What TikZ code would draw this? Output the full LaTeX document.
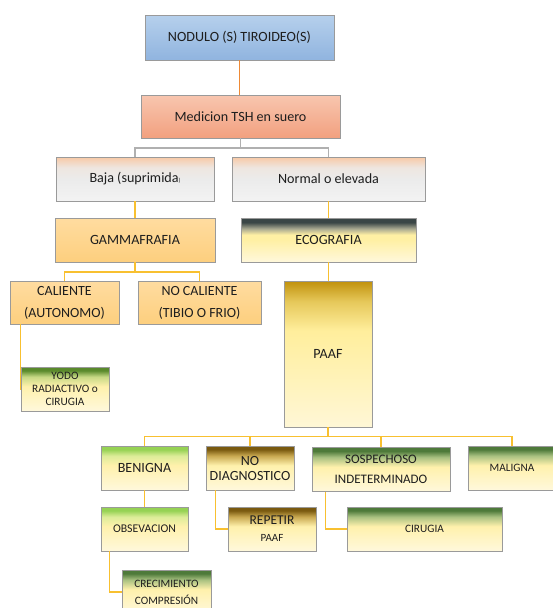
\documentclass[tikz,border=0pt]{standalone}
\usepackage{fontspec}
\setmainfont{Carlito}
\usetikzlibrary{shadows}
% colours
\definecolor{txt}{HTML}{1E1E1E}
\definecolor{boxline}{HTML}{9A9A9A}
\definecolor{goldline}{HTML}{F8C030}
\definecolor{orangeline}{HTML}{EE8A36}
\definecolor{grayline}{HTML}{B0B0B0}
\definecolor{blueT}{HTML}{B6D0EC}\definecolor{blueB}{HTML}{90B4DF}
\definecolor{salT}{HTML}{F8C6AF}\definecolor{salB}{HTML}{F2A07F}
\definecolor{pchT}{HTML}{F8C9A6}\definecolor{pchM}{HTML}{EEE6E0}\definecolor{pchB}{HTML}{F3F3F3}\definecolor{pchC}{HTML}{EBEBEB}
\definecolor{gamT}{HTML}{FFDCA0}\definecolor{gamB}{HTML}{FDCF7E}
\definecolor{ecoT}{HTML}{3A4646}\definecolor{ecoA}{HTML}{A8A890}\definecolor{ecoM}{HTML}{FFF0A4}\definecolor{ecoB}{HTML}{FFF8DC}
\definecolor{paT}{HTML}{C0910C}\definecolor{paA}{HTML}{E6C85A}\definecolor{paM}{HTML}{FFEE9C}\definecolor{paB}{HTML}{FFF7D6}
\definecolor{ygT}{HTML}{5A8A2C}\definecolor{ygA}{HTML}{C6D884}
\definecolor{lgT}{HTML}{96D254}\definecolor{lgA}{HTML}{DCEC98}
\definecolor{brT}{HTML}{7A5A10}\definecolor{brA}{HTML}{C8A850}
\definecolor{dgT}{HTML}{4E7A3A}\definecolor{dgA}{HTML}{A8C080}
\definecolor{ylM}{HTML}{FFF1AC}\definecolor{ylB}{HTML}{FFF8DC}
% shadings (path mapped to 25bp..75bp)
\pgfdeclareverticalshading{shBlue}{100bp}{color(0bp)=(blueB); color(25bp)=(blueB); color(75bp)=(blueT); color(100bp)=(blueT)}
\pgfdeclareverticalshading{shSal}{100bp}{color(0bp)=(salB); color(25bp)=(salB); color(75bp)=(salT); color(100bp)=(salT)}
\pgfdeclareverticalshading{shPeach}{100bp}{color(0bp)=(pchB); color(25bp)=(pchB); color(50bp)=(pchC); color(63bp)=(pchM); color(75bp)=(pchT); color(100bp)=(pchT)}
\pgfdeclareverticalshading{shGam}{100bp}{color(0bp)=(gamB); color(25bp)=(gamB); color(75bp)=(gamT); color(100bp)=(gamT)}
\pgfdeclareverticalshading{shEco}{100bp}{color(0bp)=(ecoB); color(25bp)=(ecoB); color(50bp)=(ecoM); color(56bp)=(ecoM); color(63bp)=(ecoA); color(70bp)=(ecoT); color(100bp)=(ecoT)}
\pgfdeclareverticalshading{shPaaf}{100bp}{color(0bp)=(paB); color(25bp)=(paB); color(58bp)=(paM); color(68bp)=(paA); color(75bp)=(paT); color(100bp)=(paT)}
\pgfdeclareverticalshading{shYodo}{100bp}{color(0bp)=(ylB); color(25bp)=(ylB); color(53bp)=(ylM); color(64bp)=(ygA); color(71bp)=(ygT); color(100bp)=(ygT)}
\pgfdeclareverticalshading{shLg}{100bp}{color(0bp)=(ylB); color(25bp)=(ylB); color(53bp)=(ylM); color(64bp)=(lgA); color(71bp)=(lgT); color(100bp)=(lgT)}
\pgfdeclareverticalshading{shBr}{100bp}{color(0bp)=(ylB); color(25bp)=(ylB); color(53bp)=(ylM); color(64bp)=(brA); color(71bp)=(brT); color(100bp)=(brT)}
\pgfdeclareverticalshading{shDg}{100bp}{color(0bp)=(ylB); color(25bp)=(ylB); color(53bp)=(ylM); color(64bp)=(dgA); color(71bp)=(dgT); color(100bp)=(dgT)}
\tikzset{
  box/.style={draw=boxline, line width=0.6pt, minimum height=44pt, inner sep=1pt,
    align=center, text=txt,
    drop shadow={shadow xshift=0.9pt, shadow yshift=-0.9pt, fill=black!40, opacity=0.45}},
  big/.style={font=\fontsize{14.1}{16.5}\selectfont},
  small/.style={font=\fontsize{11.3}{12.7}\selectfont},
  link/.style={line width=1.2pt, draw=goldline},
}
\begin{document}
\begin{tikzpicture}[x=1pt,y=-1pt]
\useasboundingbox (0,0) rectangle (553,608);
\clip (0,0) rectangle (553,608);
% nodes
\node[box,big,shading=shBlue,minimum width=189pt,minimum height=45pt] (nod) at (239.5,37.5) {NODULO (S) TIROIDEO(S)};
\node[box,big,shading=shSal,minimum width=199pt,minimum height=43pt] (med) at (240.5,116.5) {Medicion TSH en suero};
\node[box,big,shading=shPeach,minimum width=158pt] (baja) at (135,179) {Baja (suprimida{\fontsize{6}{7}\selectfont )}};
\node[box,big,shading=shPeach,minimum width=193pt] (normal) at (328.5,179) {Normal o elevada};
\node[box,big,shading=shGam,minimum width=160pt] (gamma) at (135,240) {GAMMAFRAFIA};
\node[box,big,shading=shEco,minimum width=175pt] (eco) at (328.5,240) {ECOGRAFIA};
\node[box,shading=shGam,minimum width=109pt,minimum height=43pt,font=\fontsize{14}{22}\selectfont] (cal) at (64.5,302.5) {CALIENTE\\(AUTONOMO)};
\node[box,shading=shGam,minimum width=123pt,minimum height=43pt,font=\fontsize{14}{22}\selectfont] (nocal) at (199.5,302.5) {NO CALIENTE\\(TIBIO O FRIO)};
\node[box,big,shading=shPaaf,minimum width=88pt,minimum height=146pt] (paaf) at (328,354) {PAAF};
\node[box,small,shading=shYodo,minimum width=88pt] (yodo) at (65,389) {YODO\\RADIACTIVO o\\CIRUGIA};
\node[box,big,shading=shLg,minimum width=87pt] (ben) at (144.5,468) {BENIGNA};
\node[box,shading=shBr,minimum width=88pt,font=\fontsize{14}{15}\selectfont] (nodiag) at (250,468) {NO\\DIAGNOSTICO};
\node[box,shading=shDg,minimum width=138pt,font=\fontsize{13}{20}\selectfont] (sosp) at (381,469.5) {SOSPECHOSO\\INDETERMINADO};
\node[box,small,shading=shDg,minimum width=88pt] (mal) at (512,468) {MALIGNA};
\node[box,shading=shLg,minimum width=87pt,font=\fontsize{11.8}{13}\selectfont] (obs) at (144.5,529) {OBSEVACION};
\node[box,shading=shBr,minimum width=88pt] (rep) at (272,529) {{\fontsize{13.5}{16}\selectfont REPETIR}\\[5pt]{\fontsize{11}{13}\selectfont PAAF}};
\node[box,small,shading=shDg,minimum width=155pt] (cir) at (424.5,529) {CIRUGIA};
\node[box,shading=shDg,minimum width=89pt,font=\fontsize{11.3}{17}\selectfont] (crec) at (166.5,592) {CRECIMIENTO\\COMPRESIÓN};
% bar levels
\coordinate (bar1) at (0,148);
\coordinate (bar2) at (0,272);
\coordinate (bar3) at (0,436.5);
% connectors
\draw[link,draw=orangeline] (nod.south) -- (nod.south |- med.north);
\draw[link,draw=grayline] (med.south) -- (med.south |- bar1);
\draw[link,draw=grayline] (baja.north) |- (bar1 -| normal.north) -- (normal.north);
\draw[link] (baja.south) -- (gamma.north);
\draw[link] (normal.south) -- (eco.north);
\draw[link] (gamma.south) -- (gamma.south |- bar2);
\draw[link] (cal.north) |- (bar2 -| nocal.north) -- (nocal.north);
\draw[link] (eco.south) -- (eco.south |- paaf.north);
\draw[link] ([xshift=10.5pt]cal.south west) |- (yodo.west);
\draw[link] (paaf.south) -- (paaf.south |- bar3);
\draw[link] (ben.north) |- (bar3 -| mal.north) -- (mal.north);
\draw[link] (nodiag.north) -- (nodiag.north |- bar3);
\draw[link] (sosp.north) -- (sosp.north |- bar3);
\draw[link] (ben.south) -- (obs.north);
\draw[link] ([xshift=10pt]nodiag.south west) |- (rep.west);
\draw[link] ([xshift=14pt]sosp.south west) |- (cir.west);
\draw[link] ([xshift=9pt]obs.south west) |- (crec.west);
\end{tikzpicture}
\end{document}
